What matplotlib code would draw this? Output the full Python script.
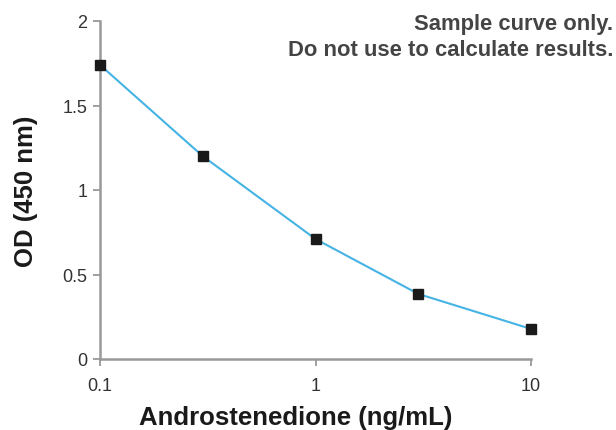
import numpy as np
import matplotlib
matplotlib.use("Agg")
from matplotlib import pyplot as plt
from matplotlib.ticker import FixedLocator, FixedFormatter, NullLocator

conc = [0.1, 0.3, 1, 3, 10]
od = [1.74, 1.20, 0.71, 0.385, 0.178]
xticks = [0.1, 1, 10]
xticklabels = ['0.1', '1', '10']
yticks = [0, 0.5, 1, 1.5, 2]
yticklabels = ['0', '0.5', '1', '1.5', '2']

plt.rcParams['font.family'] = ['Liberation Sans', 'DejaVu Sans']

fig = plt.figure(figsize=(6.16, 4.31), dpi=100)
ax = fig.add_axes([100/616, 71/431, 431/616, 338/431])

ax.plot(conc, od, '-', color='#45b3e3', lw=1.5, zorder=2)
ax.plot(conc, od, 's', color='#1a1a1a', ms=6.5, zorder=3, clip_on=False)

ax.set_xscale('log')
ax.set_xlim(0.1, 10)
ax.set_ylim(0, 2)
ax.xaxis.set_major_locator(FixedLocator(xticks))
ax.xaxis.set_major_formatter(FixedFormatter(xticklabels))
ax.xaxis.set_minor_locator(NullLocator())
ax.set_yticks(yticks)
ax.set_yticklabels(yticklabels)

for s in ['top', 'right']:
    ax.spines[s].set_visible(False)
for s in ['left', 'bottom']:
    ax.spines[s].set_color('#999999')
    ax.spines[s].set_linewidth(1.8)
ax.tick_params(axis='both', direction='out', length=5, width=1.3, color='#999999',
               labelsize=13, labelcolor='#333333')
ax.tick_params(axis='y', pad=4)
ax.tick_params(axis='x', pad=8)

ax.set_xlabel('Androstenedione (ng/mL)', fontsize=18.5, fontweight='bold', color='#1a1a1a')
ax.xaxis.set_label_coords(0.455, -0.135)
ax.set_ylabel('OD (450 nm)', fontsize=18.5, fontweight='bold', color='#1a1a1a', labelpad=18)

fig.text(613/616, 1 - 14/431, 'Sample curve only.\nDo not use to calculate results.',
         ha='right', va='top', fontsize=15.8, fontweight='bold', color='#444444', linespacing=1.3)

fig.savefig('out.png', dpi=100)
